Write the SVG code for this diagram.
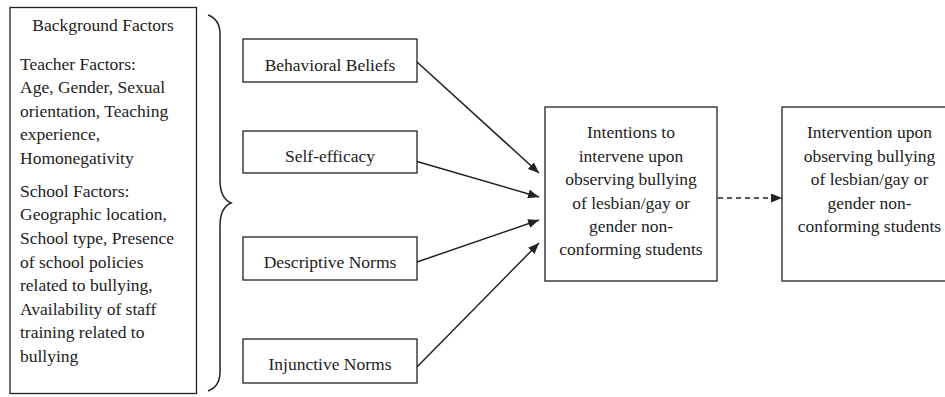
<svg xmlns="http://www.w3.org/2000/svg" width="945" height="397" viewBox="0 0 945 397">
<style>
.box{fill:#fff;stroke:#222;stroke-width:1.3}
text{font-family:"Liberation Serif","Times New Roman",serif;font-size:17.5px;fill:#222}
.c{text-anchor:middle}
.conn{stroke:#222;stroke-width:1.5;fill:none}
.dash{stroke-dasharray:5 4}
</style>
<defs>
<marker id="ah" markerUnits="userSpaceOnUse" markerWidth="12" markerHeight="10" refX="11" refY="4.5" orient="auto">
<path d="M0,0 L11,4.5 L0,9 z" fill="#222"/>
</marker>
</defs>
<rect width="945" height="397" fill="#fff"/>
<g id="background">
<rect class="box" x="10" y="7.5" width="186.5" height="386"/>
<text class="c" x="103" y="31">Background Factors</text>
<text x="20" y="70">Teacher Factors:</text>
<text x="20" y="93">Age, Gender, Sexual</text>
<text x="20" y="117">orientation, Teaching</text>
<text x="20" y="140">experience,</text>
<text x="20" y="164">Homonegativity</text>
<text x="20" y="197">School Factors:</text>
<text x="20" y="220">Geographic location,</text>
<text x="20" y="244">School type, Presence</text>
<text x="20" y="268">of school policies</text>
<text x="20" y="291">related to bullying,</text>
<text x="20" y="315">Availability of staff</text>
<text x="20" y="338">training related to</text>
<text x="20" y="362">bullying</text>
</g>
<g id="brace">
<path class="conn" d="M208,15 C216,18 220,24 220,34 L220,180 C220,194 224,200 231,203 C224,206 220,212 220,226 L220,372 C220,382 216,388 208,391"/>
</g>
<g id="behavioral">
<rect class="box" x="243" y="39" width="174" height="43"/>
<text class="c" x="330" y="70.5">Behavioral Beliefs</text>
</g>
<g id="selfefficacy">
<rect class="box" x="243" y="131" width="174" height="42"/>
<text class="c" x="330" y="162">Self-efficacy</text>
</g>
<g id="descriptive">
<rect class="box" x="243" y="237" width="174" height="43"/>
<text class="c" x="330" y="267.5">Descriptive Norms</text>
</g>
<g id="injunctive">
<rect class="box" x="243" y="339" width="174" height="44"/>
<text class="c" x="330" y="370">Injunctive Norms</text>
</g>
<g id="intentions">
<rect class="box" x="545" y="107" width="172" height="174"/>
<text class="c" x="631" y="138">Intentions to</text>
<text class="c" x="631" y="161.5">intervene upon</text>
<text class="c" x="631" y="185">observing bullying</text>
<text class="c" x="631" y="208.5">of lesbian/gay or</text>
<text class="c" x="631" y="232">gender non-</text>
<text class="c" x="631" y="255">conforming students</text>
</g>
<g id="intervention">
<rect class="box" x="782" y="107" width="176" height="174"/>
<text class="c" x="869.5" y="138">Intervention upon</text>
<text class="c" x="869.5" y="161.5">observing bullying</text>
<text class="c" x="869.5" y="185">of lesbian/gay or</text>
<text class="c" x="869.5" y="208.5">gender non-</text>
<text class="c" x="869.5" y="232">conforming students</text>
</g>
<g id="connectors">
<line class="conn" x1="417" y1="62" x2="539" y2="173" marker-end="url(#ah)"/>
<line class="conn" x1="417" y1="161.5" x2="539" y2="197" marker-end="url(#ah)"/>
<line class="conn" x1="417" y1="262" x2="539" y2="220" marker-end="url(#ah)"/>
<line class="conn" x1="417" y1="367" x2="539" y2="243" marker-end="url(#ah)"/>
<line class="conn dash" x1="718" y1="198" x2="782" y2="198" marker-end="url(#ah)"/>
</g>
</svg>
